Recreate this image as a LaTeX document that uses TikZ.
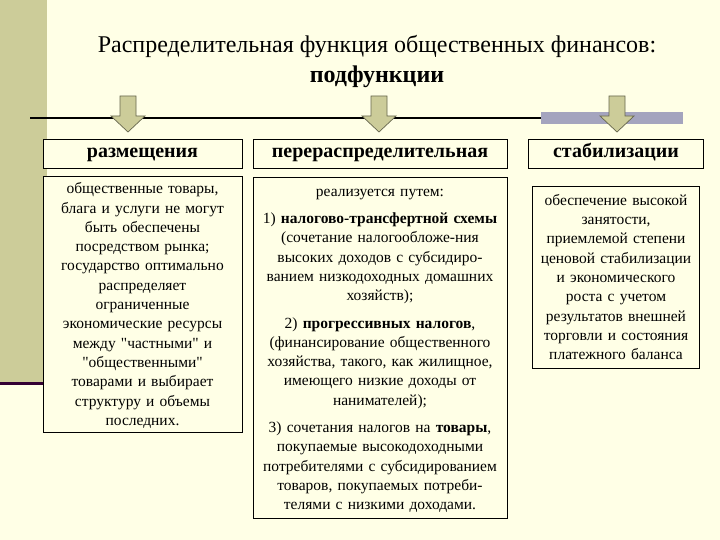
\documentclass[tikz,border=0pt]{standalone}
\usepackage{fontspec}
\setmainfont{Liberation Serif}[Ligatures=TeXOff]
\definecolor{bgc}{HTML}{FFFFE6}
\definecolor{olive}{HTML}{CCCC99}
\definecolor{band}{HTML}{A4A4BE}
\definecolor{darkpurple}{HTML}{330033}
\definecolor{arrowline}{HTML}{66664D}
\tikzset{
  headbox/.style={draw=black, line width=0.9pt, fill=bgc, minimum height=29pt, inner sep=0pt, text height=13pt, text depth=4pt, font=\fontsize{20}{22}\selectfont\bfseries},
  bodybox/.style={draw=black, line width=0.9pt, fill=bgc, inner sep=0pt, align=center, font=\fontsize{15.5}{19.3}\selectfont},
  blockarrow/.style={fill=olive, draw=arrowline, line width=0.7pt},
}
\begin{document}
\begin{tikzpicture}[x=1pt,y=-1pt]
\useasboundingbox (0,0) rectangle (720,540);
\fill[bgc] (0,0) rectangle (720,540);
\fill[olive] (0,0) rectangle (47,382);
\fill[darkpurple] (0,381.5) rectangle (48,384.5);
% title
\node[font=\fontsize{24}{30}\selectfont, align=center] (title) at (377,62)
  {Распределительная функция общественных финансов:\\\textbf{подфункции}};
% horizontal line and band
\fill[band] (541,112) rectangle (683,124);
\coordinate (lineL) at (30,118);
\coordinate (lineR) at (541,118);
\draw[line width=2pt, black] (lineL) -- (lineR);
% arrows
\foreach \cx in {128,379,617} {
  \draw[blockarrow] (\cx-8,96) -- (\cx+8,96) -- (\cx+8,116) -- (\cx+17,116)
    -- (\cx,132) -- (\cx-17,116) -- (\cx-8,116) -- cycle;
}
% header boxes
\node[headbox, minimum width=199pt] (h1) at (142.5,153.5) {размещения};
\node[headbox, minimum width=254pt] (h2) at (380,153.5) {перераспределительная};
\node[headbox, minimum width=175pt] (h3) at (616,153.5) {стабилизации};
% body boxes
\node[bodybox, minimum width=199pt, minimum height=256pt, text width=197pt] (b1) at (142.5,304)
  {\rule{0pt}{14pt}общественные товары,\\блага и услуги не могут\\быть обеспечены\\посредством рынка;\\государство оптимально\\распределяет\\ограниченные\\экономические ресурсы\\между "частными" и\\"общественными"\\товарами и выбирает\\структуру и объемы\\последних.};
\node[bodybox, minimum width=254pt, minimum height=341pt, text width=252pt] (b2) at (380,347.5)
  {\rule{0pt}{14pt}реализуется путем:\\[8pt]
   1) \textbf{налогово-трансфертной схемы}\\(сочетание налогообложе-ния\\высоких доходов с субсидиро-\\ванием низкодоходных домашних\\хозяйств);\\[8pt]
   2) \textbf{прогрессивных налогов},\\(финансирование общественного\\хозяйства, такого, как жилищное,\\имеющего низкие доходы от\\нанимателей);\\[8pt]
   3) сочетания налогов на \textbf{товары},\\покупаемые высокодоходными\\потребителями с субсидированием\\товаров, покупаемых потреби-\\телями с низкими доходами.};
\node[bodybox, minimum width=167pt, minimum height=182pt, text width=165pt] (b3) at (616,277)
  {обеспечение высокой\\занятости,\\приемлемой степени\\ценовой стабилизации\\и экономического\\роста с учетом\\результатов внешней\\торговли и состояния\\платежного баланса};
\end{tikzpicture}
\end{document}
